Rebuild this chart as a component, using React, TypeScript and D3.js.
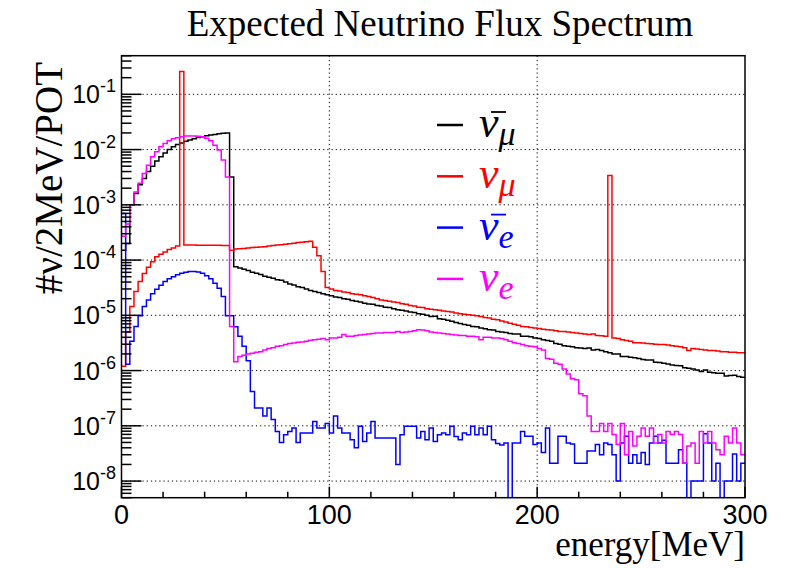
import React, { useEffect, useRef } from 'react'
import * as d3 from 'd3'

// 2 MeV bins from 0 to 300 MeV, one value per bin (#nu / 2MeV / POT)
const binWidth = 2
const energyMajor = [0, 100, 200, 300]
const energyMinor = [20, 40, 60, 80, 120, 140, 160, 180, 220, 240, 260, 280]
const decades = [1e-8, 1e-7, 1e-6, 1e-5, 1e-4, 1e-3, 1e-2, 1e-1]
const decadeExp = ['-8', '-7', '-6', '-5', '-4', '-3', '-2', '-1']

const numuBar = [
  1.5e-4, 2.0e-4, 1.0e-3, 1.6e-3, 2.3e-3, 3.0e-3, 4.0e-3, 5.0e-3, 6.2e-3, 7.4e-3,
  8.7e-3, 1.0e-2, 1.12e-2, 1.23e-2, 1.32e-2, 1.41e-2, 1.49e-2, 1.57e-2, 1.65e-2, 1.71e-2,
  1.77e-2, 1.83e-2, 1.88e-2, 1.93e-2, 1.97e-2, 2.0e-2, 3.2e-3, 7.6e-5, 7.2e-5, 6.8e-5,
  6.5e-5, 6.0e-5, 5.8e-5, 5.5e-5, 5.1e-5, 4.9e-5, 4.7e-5, 4.4e-5, 4.3e-5, 4.0e-5,
  3.7e-5, 3.55e-5, 3.3e-5, 3.2e-5, 3.0e-5, 2.8e-5, 2.7e-5, 2.6e-5, 2.45e-5, 2.35e-5,
  2.25e-5, 2.15e-5, 2.1e-5, 2.0e-5, 1.95e-5, 1.85e-5, 1.8e-5, 1.75e-5, 1.65e-5, 1.6e-5,
  1.58e-5, 1.5e-5, 1.48e-5, 1.4e-5, 1.38e-5, 1.32e-5, 1.26e-5, 1.23e-5, 1.2e-5, 1.15e-5,
  1.12e-5, 1.07e-5, 1.05e-5, 1.0e-5, 9.5e-6, 9.6e-6, 8.7e-6, 8.5e-6, 8.1e-6, 7.8e-6,
  7.4e-6, 7.1e-6, 6.8e-6, 6.6e-6, 6.3e-6, 6.2e-6, 5.9e-6, 5.7e-6, 5.5e-6, 5.4e-6,
  5.1e-6, 5.0e-6, 4.9e-6, 4.7e-6, 4.6e-6, 4.6e-6, 4.2e-6, 4.2e-6, 4.1e-6, 3.9e-6,
  3.8e-6, 3.6e-6, 3.5e-6, 3.4e-6, 3.1e-6, 3.0e-6, 2.8e-6, 2.75e-6, 2.7e-6, 2.6e-6,
  2.55e-6, 2.5e-6, 2.55e-6, 2.35e-6, 2.4e-6, 2.3e-6, 2.2e-6, 2.1e-6, 2.0e-6, 2.0e-6,
  1.8e-6, 1.8e-6, 1.75e-6, 1.7e-6, 1.65e-6, 1.58e-6, 1.55e-6, 1.55e-6, 1.42e-6, 1.4e-6,
  1.35e-6, 1.32e-6, 1.26e-6, 1.23e-6, 1.22e-6, 1.12e-6, 1.1e-6, 1.07e-6, 1.02e-6, 9.6e-7,
  1.02e-6, 9.3e-7, 9.1e-7, 8.9e-7, 8.9e-7, 8.0e-7, 8.1e-7, 8.2e-7, 7.8e-7, 7.6e-7
]

const numu = [
  1.2e-6, 5.0e-6, 1.45e-5, 2.7e-5, 4.1e-5, 5.7e-5, 7.4e-5, 9.3e-5, 1.15e-4, 1.28e-4,
  1.4e-4, 1.55e-4, 1.65e-4, 1.8e-4, 2.6e-1, 1.87e-4, 1.87e-4, 1.87e-4, 1.86e-4, 1.86e-4,
  1.86e-4, 1.85e-4, 1.85e-4, 1.85e-4, 1.84e-4, 1.84e-4, 1.5e-4, 1.58e-4, 1.6e-4, 1.62e-4,
  1.65e-4, 1.68e-4, 1.7e-4, 1.72e-4, 1.75e-4, 1.8e-4, 1.83e-4, 1.87e-4, 1.9e-4, 1.94e-4,
  1.97e-4, 2.02e-4, 2.07e-4, 2.1e-4, 2.15e-4, 2.2e-4, 1.7e-4, 1.2e-4, 6.2e-5, 3.2e-5,
  3.0e-5, 2.8e-5, 2.75e-5, 2.65e-5, 2.6e-5, 2.45e-5, 2.4e-5, 2.35e-5, 2.25e-5, 2.2e-5,
  2.1e-5, 2.0e-5, 1.9e-5, 1.85e-5, 1.8e-5, 1.75e-5, 1.7e-5, 1.62e-5, 1.58e-5, 1.5e-5,
  1.48e-5, 1.4e-5, 1.38e-5, 1.32e-5, 1.29e-5, 1.26e-5, 1.23e-5, 1.2e-5, 1.17e-5, 1.15e-5,
  1.1e-5, 1.07e-5, 1.05e-5, 1.02e-5, 1.0e-5, 9.8e-6, 9.5e-6, 9.1e-6, 8.9e-6, 8.5e-6,
  8.3e-6, 7.9e-6, 7.6e-6, 7.2e-6, 6.9e-6, 6.6e-6, 6.3e-6, 6.2e-6, 6.0e-6, 5.9e-6,
  5.75e-6, 5.6e-6, 5.5e-6, 5.4e-6, 5.25e-6, 5.1e-6, 5.1e-6, 5.0e-6, 4.9e-6, 4.8e-6,
  4.7e-6, 4.6e-6, 4.5e-6, 4.6e-6, 4.3e-6, 4.25e-6, 4.2e-6, 3.4e-3, 3.9e-6, 3.8e-6,
  3.6e-6, 3.5e-6, 3.4e-6, 3.2e-6, 3.2e-6, 3.15e-6, 3.1e-6, 3.05e-6, 3.0e-6, 2.95e-6,
  2.95e-6, 2.9e-6, 2.8e-6, 2.75e-6, 2.7e-6, 2.6e-6, 2.3e-6, 2.5e-6, 2.45e-6, 2.4e-6,
  2.35e-6, 2.3e-6, 2.3e-6, 2.25e-6, 2.2e-6, 2.2e-6, 2.15e-6, 2.15e-6, 2.1e-6, 2.1e-6
]

const nueBar = [
  7.0e-4, 1.3e-6, 3.4e-6, 6.3e-6, 9.8e-6, 1.44e-5, 1.9e-5, 2.45e-5, 2.95e-5, 3.5e-5,
  4.1e-5, 4.6e-5, 5.0e-5, 5.4e-5, 5.8e-5, 6.0e-5, 6.2e-5, 6.2e-5, 6.1e-5, 5.8e-5,
  5.2e-5, 4.6e-5, 3.8e-5, 3.1e-5, 2.2e-5, 9.8e-6, 9.8e-6, 6.2e-6, 4.2e-6, 2.75e-6,
  1.5e-6, 4.2e-7, 2.1e-7, 2.1e-7, 1.5e-7, 2.1e-7, 1.3e-7, 7.9e-8, 5.0e-8, 6.9e-8,
  7.9e-8, 9.1e-8, 5.0e-8, 7.4e-8, 7.4e-8, 7.4e-8, 1.2e-7, 9.1e-8, 9.1e-8, 1.1e-7,
  7.4e-8, 1.5e-7, 9.1e-8, 7.4e-8, 7.4e-8, 5.6e-8, 4.0e-8, 9.8e-8, 5.2e-8, 7.4e-8,
  1.2e-7, 6.0e-8, 6.0e-8, 6.0e-8, 6.0e-8, 6.0e-8, 2.0e-8, 6.9e-8, 9.8e-8, 9.8e-8,
  9.8e-8, 6.0e-8, 7.9e-8, 5.6e-8, 9.1e-8, 5.2e-8, 6.9e-8, 7.4e-8, 6.9e-8, 9.8e-8,
  6.4e-8, 5.6e-8, 7.4e-8, 6.9e-8, 9.8e-8, 6.9e-8, 9.1e-8, 6.9e-8, 9.8e-8, 5.6e-8,
  4.8e-8, 4.5e-8, 4.9e-8, 0, 4.9e-8, 4.9e-8, 7.9e-8, 6.5e-8, 6.5e-8, 4.6e-8,
  4.9e-8, 3.3e-8, 9.1e-8, 2.1e-8, 2.1e-8, 6.5e-8, 6.5e-8, 4.9e-8, 4.7e-8, 2.1e-8,
  2.1e-8, 2.1e-8, 3.5e-8, 3.5e-8, 4.6e-8, 3.0e-8, 4.9e-8, 4.6e-8, 3.0e-8, 1.0e-8,
  4.9e-8, 6.5e-8, 2.1e-8, 3.0e-8, 2.1e-8, 3.3e-8, 2.0e-8, 4.9e-8, 6.5e-8, 4.9e-8,
  5.5e-8, 2.1e-8, 2.1e-8, 2.1e-8, 3.7e-8, 2.1e-8, 0, 1.0e-8, 1.0e-8, 1.0e-8,
  7.2e-8, 4.9e-8, 1.0e-8, 2.1e-8, 0, 1.0e-8, 1.0e-8, 3.1e-8, 1.0e-8, 2.1e-8
]

const nue = [
  2.7e-4, 4.5e-4, 1.0e-3, 1.7e-3, 2.45e-3, 3.7e-3, 5.2e-3, 7.4e-3, 9.1e-3, 1.12e-2,
  1.29e-2, 1.44e-2, 1.57e-2, 1.63e-2, 1.7e-2, 1.76e-2, 1.76e-2, 1.76e-2, 1.74e-2, 1.7e-2,
  1.6e-2, 1.44e-2, 1.2e-2, 9.8e-3, 6.5e-3, 3.2e-3, 6.3e-6, 1.45e-6, 1.8e-6, 1.9e-6,
  2.0e-6, 2.05e-6, 2.15e-6, 2.2e-6, 2.35e-6, 2.5e-6, 2.6e-6, 2.75e-6, 2.8e-6, 2.95e-6,
  3.1e-6, 3.15e-6, 3.25e-6, 3.3e-6, 3.4e-6, 3.55e-6, 3.6e-6, 3.7e-6, 3.8e-6, 3.6e-6,
  3.9e-6, 3.9e-6, 4.0e-6, 4.5e-6, 4.2e-6, 4.2e-6, 4.3e-6, 4.4e-6, 4.5e-6, 4.6e-6,
  4.7e-6, 4.8e-6, 4.8e-6, 4.9e-6, 4.9e-6, 4.9e-6, 5.1e-6, 4.9e-6, 5.0e-6, 5.1e-6,
  5.25e-6, 5.5e-6, 5.4e-6, 5.25e-6, 5.0e-6, 4.9e-6, 4.8e-6, 4.7e-6, 4.6e-6, 4.5e-6,
  4.4e-6, 4.3e-6, 4.3e-6, 4.2e-6, 4.2e-6, 4.1e-6, 3.6e-6, 4.0e-6, 4.0e-6, 3.9e-6,
  3.9e-6, 3.8e-6, 3.6e-6, 3.4e-6, 3.2e-6, 3.1e-6, 2.95e-6, 2.8e-6, 2.75e-6, 2.7e-6,
  2.5e-6, 2.35e-6, 1.65e-6, 1.6e-6, 1.35e-6, 1.3e-6, 1.07e-6, 8.7e-7, 7.1e-7, 6.8e-7,
  3.8e-7, 3.5e-7, 1.5e-7, 7.9e-8, 7.9e-8, 1.1e-7, 7.9e-8, 1.1e-7, 7.0e-8, 4.6e-8,
  1.1e-7, 3.0e-8, 7.9e-8, 4.3e-8, 6.5e-8, 9.1e-8, 6.5e-8, 9.1e-8, 4.9e-8, 7.0e-8,
  4.9e-8, 7.9e-8, 7.0e-8, 7.9e-8, 7.0e-8, 2.1e-8, 4.3e-8, 4.9e-8, 2.1e-8, 7.9e-8,
  4.9e-8, 7.9e-8, 4.9e-8, 3.7e-8, 3.0e-8, 6.5e-8, 4.9e-8, 9.1e-8, 4.9e-8, 3.0e-8
]

const series = [
  { name: 'ν', bar: true, sub: 'μ', color: '#000000', values: numuBar },
  { name: 'ν', bar: false, sub: 'μ', color: '#ff0000', values: numu },
  { name: 'ν', bar: true, sub: 'e', color: '#0000ff', values: nueBar },
  { name: 'ν', bar: false, sub: 'e', color: '#ff00ff', values: nue }
]

const W = 789
const H = 568
const left = 121.5
const right = 745
const top = 55.7
const bottom = 497.7
const serif = '"Liberation Serif", "Times New Roman", serif'
const sans = '"Liberation Sans", Arial, Helvetica, sans-serif'

export default function App() {
  const ref = useRef<SVGSVGElement>(null)

  useEffect(() => {
    const svg = d3.select(ref.current)
    svg.selectAll('*').remove()

    const x = d3.scaleLinear().domain([0, 300]).range([left, right])
    const y = d3.scaleLog().domain([5e-9, 0.5]).range([bottom, top])
    const yMin = 5e-9

    svg
      .append('defs')
      .append('clipPath')
      .attr('id', 'plotclip')
      .append('rect')
      .attr('x', left)
      .attr('y', top)
      .attr('width', right - left)
      .attr('height', bottom - top)

    // dotted grid
    const grid = svg.append('g').attr('stroke', '#000').attr('stroke-width', 1).attr('stroke-dasharray', '1.2,3')
    energyMajor.slice(1, -1).forEach(e => {
      grid.append('line').attr('x1', x(e)).attr('x2', x(e)).attr('y1', top).attr('y2', bottom)
    })
    decades.forEach(d => {
      grid.append('line').attr('x1', left).attr('x2', right).attr('y1', y(d)).attr('y2', y(d))
    })

    // histograms as steps
    const line = d3
      .line<[number, number]>()
      .x(d => x(d[0]))
      .y(d => y(Math.max(d[1], yMin / 2)))
    const hist = svg.append('g').attr('clip-path', 'url(#plotclip)')
    series.forEach(s => {
      const pts: [number, number][] = []
      s.values.forEach((v, i) => {
        pts.push([i * binWidth, v])
        pts.push([(i + 1) * binWidth, v])
      })
      hist
        .append('path')
        .attr('d', line(pts))
        .attr('fill', 'none')
        .attr('stroke', s.color)
        .attr('stroke-width', 1.5)
    })

    // frame
    svg
      .append('rect')
      .attr('x', left)
      .attr('y', top)
      .attr('width', right - left)
      .attr('height', bottom - top)
      .attr('fill', 'none')
      .attr('stroke', '#000')
      .attr('stroke-width', 1.5)

    // x ticks
    const ticks = svg.append('g').attr('stroke', '#000').attr('stroke-width', 1.5)
    energyMajor.forEach(e => {
      ticks.append('line').attr('x1', x(e)).attr('x2', x(e)).attr('y1', bottom).attr('y2', bottom - 11)
    })
    energyMinor.forEach(e => {
      ticks.append('line').attr('x1', x(e)).attr('x2', x(e)).attr('y1', bottom).attr('y2', bottom - 6)
    })

    // y ticks (log)
    for (let p = -9; p <= -1; p++) {
      for (let m = 1; m <= 9; m++) {
        const v = m * Math.pow(10, p)
        if (v < yMin || v > 0.5) continue
        const len = m === 1 ? 20 : 10
        ticks.append('line').attr('x1', left).attr('x2', left + len).attr('y1', y(v)).attr('y2', y(v))
      }
    }

    // x labels
    energyMajor.forEach(e => {
      svg
        .append('text')
        .attr('x', x(e))
        .attr('y', 524)
        .attr('text-anchor', 'middle')
        .attr('font-family', sans)
        .attr('font-size', 27)
        .text(e)
    })

    // y labels
    decades.forEach((d, i) => {
      const t = svg
        .append('text')
        .attr('x', 116)
        .attr('y', y(d) + 9)
        .attr('text-anchor', 'end')
        .attr('font-family', sans)
        .attr('font-size', 25)
      t.append('tspan').text('10')
      t.append('tspan').attr('font-size', 18).attr('dy', -11).text(decadeExp[i])
    })

    // titles
    svg
      .append('text')
      .attr('x', 440)
      .attr('y', 36)
      .attr('text-anchor', 'middle')
      .attr('font-family', serif)
      .attr('font-size', 37)
      .text('Expected Neutrino Flux Spectrum')

    svg
      .append('text')
      .attr('x', right)
      .attr('y', 556)
      .attr('text-anchor', 'end')
      .attr('font-family', serif)
      .attr('font-size', 35)
      .text('energy[MeV]')

    svg
      .append('text')
      .attr('transform', 'translate(62,62) rotate(-90)')
      .attr('text-anchor', 'end')
      .attr('font-family', serif)
      .attr('font-size', 39)
      .text('#ν/2MeV/POT')

    // legend
    series.forEach((s, i) => {
      const ly = 125 + i * 51.3
      svg
        .append('line')
        .attr('x1', 437)
        .attr('x2', 463)
        .attr('y1', ly)
        .attr('y2', ly)
        .attr('stroke', s.color)
        .attr('stroke-width', 2.5)
      const t = svg
        .append('text')
        .attr('x', 479)
        .attr('y', ly + 12)
        .attr('font-family', serif)
        .attr('font-style', 'italic')
        .attr('font-size', 44)
        .attr('fill', s.color)
      t.append('tspan').text(s.name)
      t.append('tspan').attr('font-size', 34).attr('dy', 8).text(s.sub)
      if (s.bar) {
        svg
          .append('line')
          .attr('x1', 491)
          .attr('x2', 506)
          .attr('y1', ly - 13)
          .attr('y2', ly - 13)
          .attr('stroke', s.color)
          .attr('stroke-width', 1.8)
      }
    })
  }, [])

  return (
    <svg
      ref={ref}
      width={W}
      height={H}
      style={{ position: 'absolute', left: 0, top: 0, background: '#fff' }}
    />
  )
}
